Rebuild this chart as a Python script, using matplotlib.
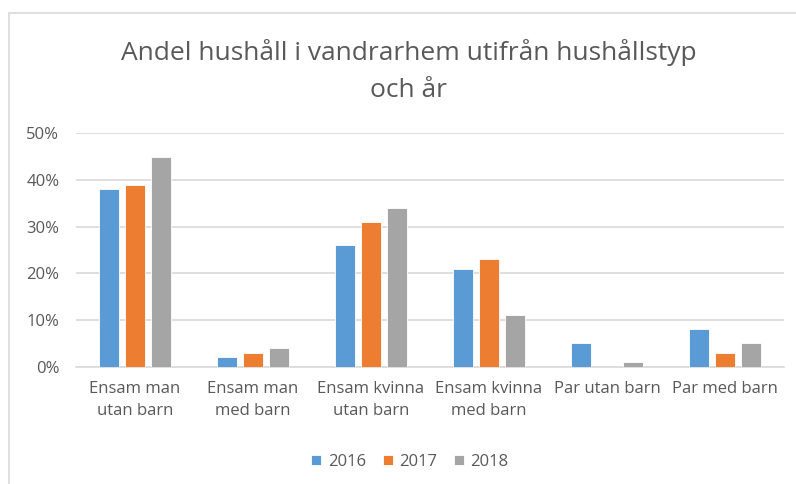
import matplotlib
matplotlib.use("Agg")
import matplotlib.pyplot as plt
import numpy as np
from matplotlib.patches import Rectangle

categories = ["Ensam man\nutan barn", "Ensam man\nmed barn", "Ensam kvinna\nutan barn",
              "Ensam kvinna\nmed barn", "Par utan barn", "Par med barn"]
years = ["2016", "2017", "2018"]
v2016 = [0.38, 0.02, 0.26, 0.21, 0.05, 0.08]
v2017 = [0.39, 0.03, 0.31, 0.23, 0.00, 0.03]
v2018 = [0.45, 0.04, 0.34, 0.11, 0.01, 0.05]
yticks = [0, 0.1, 0.2, 0.3, 0.4, 0.5]

colors = ["#5B9BD5", "#ED7D31", "#A5A5A5"]
txt = "#595959"
plt.rcParams['font.family'] = ['Open Sans', 'DejaVu Sans']

fig = plt.figure(figsize=(7.96, 4.84), dpi=100)
ax = fig.add_axes([76/796, 1-366.7/484, 708/796, (366.7-133.3)/484])

# chart border (only left/top visible in the crop)
fig.patches.append(Rectangle((9/796, -0.1), 1.2, 1-13/484+0.1, transform=fig.transFigure,
                             fill=False, edgecolor="#D9D9D9", linewidth=1.2))

x = np.arange(len(categories))
w = 0.17
step = 0.22
for i, (vals, c, lab) in enumerate(zip([v2016, v2017, v2018], colors, years)):
    ax.bar(x + (i-1)*step, vals, width=w, color=c, edgecolor="white", linewidth=0.6,
           label=lab, zorder=3)

ax.set_xlim(-0.5, len(categories)-0.5)
ax.set_ylim(0, 0.5)
ax.set_yticks(yticks)
ax.set_yticklabels(["%d%%" % round(t*100) for t in yticks])
ax.set_xticks(x)
ax.set_xticklabels(categories, linespacing=1.55)
ax.tick_params(axis="both", length=0, colors=txt, labelsize=12)
ax.tick_params(axis="y", pad=12)
ax.tick_params(axis="x", pad=10)
ax.grid(axis="y", color="#D9D9D9", linewidth=1.2, zorder=0)
for s in ["top", "right", "left"]:
    ax.spines[s].set_visible(False)
ax.spines["bottom"].set_color("#D9D9D9")
ax.spines["bottom"].set_linewidth(1.2)

fig.text(0.513, 1-71/484, "Andel hushåll i vandrarhem utifrån hushållstyp\noch år",
         ha="center", va="center", fontsize=19, color=txt, linespacing=1.6)

fig.legend(loc="center", bbox_to_anchor=(0.515, 1-462/484), ncol=3, frameon=False,
           fontsize=12, labelcolor=txt, handlelength=0.6, handleheight=0.6,
           handletextpad=0.4, columnspacing=1.0)

fig.savefig("out.png", dpi=100)
